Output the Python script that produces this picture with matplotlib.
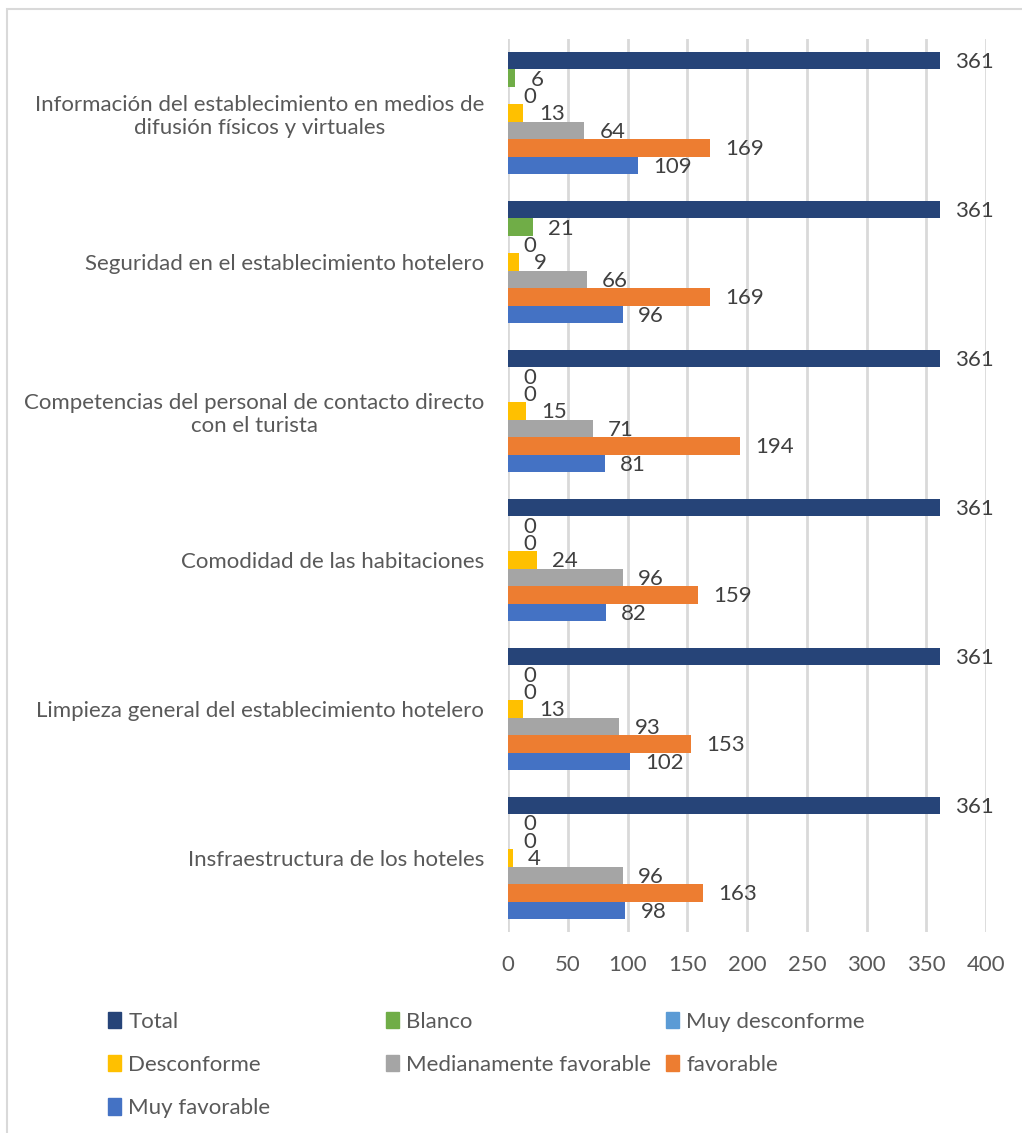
import numpy as np
import matplotlib
matplotlib.use("Agg")
import matplotlib.pyplot as plt
from matplotlib.patches import Patch, Rectangle

# categories, top to bottom as in the chart
categories = [
    "Información del establecimiento en medios de\ndifusión físicos y virtuales",
    "Seguridad en el establecimiento hotelero",
    "Competencias del personal de contacto directo\ncon el turista",
    "Comodidad de las habitaciones",
    "Limpieza general del establecimiento hotelero",
    "Insfraestructura de los hoteles",
]

# series, top bar of each group first
total = [361, 361, 361, 361, 361, 361]
blanco = [6, 21, 0, 0, 0, 0]
muy_desconforme = [0, 0, 0, 0, 0, 0]
desconforme = [13, 9, 15, 24, 13, 4]
medianamente = [64, 66, 71, 96, 93, 96]
favorable = [169, 169, 194, 159, 153, 163]
muy_favorable = [109, 96, 81, 82, 102, 98]

series_names = ["Total", "Blanco", "Muy desconforme", "Desconforme",
                "Medianamente favorable", "favorable", "Muy favorable"]
series_vals = [total, blanco, muy_desconforme, desconforme,
               medianamente, favorable, muy_favorable]
colors = ["#264478", "#70AD47", "#5B9BD5", "#FFC000",
          "#A5A5A5", "#ED7D31", "#4472C4"]

xticks = [0, 50, 100, 150, 200, 250, 300, 350, 400]

TXT = "#595959"
FS = 16
plt.rcParams["font.family"] = ["Lato", "DejaVu Sans"]

fig = plt.figure(figsize=(10.22, 11.33), dpi=100)
ax = fig.add_axes([0.497, 0.177, 0.468, 0.789])

n_ser = len(series_names)
bh = 0.117
y = np.arange(len(categories))
for i, (name, vals, c) in enumerate(zip(series_names, series_vals, colors)):
    # Total on top of each group, Muy favorable at the bottom
    pos = y - (n_ser - 1) / 2 * bh + i * bh
    bars = ax.barh(pos, vals, height=bh, color=c, label=name, zorder=3)
    for b, v in zip(bars, vals):
        ax.annotate(str(v), (b.get_width(), b.get_y() + b.get_height() / 2),
                    xytext=(11, -1), textcoords="offset points",
                    ha="left", va="center", fontsize=FS, color="#404040")

ax.set_xlim(0, 400)
ax.set_ylim(len(categories) - 0.5, -0.5)
ax.set_xticks(xticks)
ax.set_yticks(y)
ax.set_yticklabels(categories, fontsize=FS, color=TXT, ha="right",
                   multialignment="center")
ax.tick_params(axis="x", length=0, labelsize=FS, labelcolor=TXT, pad=16)
ax.tick_params(axis="y", length=0, pad=17)
ax.grid(axis="x", color="#D9D9D9", linewidth=2, zorder=0)
for s in ax.spines.values():
    s.set_visible(False)

# legend in three fixed columns, like the Excel layout
handles = [Patch(color=c, label=n) for n, c in zip(series_names, colors)]
col_x = [0.106, 0.378, 0.652]
for k in range(3):
    hs = handles[k::3]
    fig.legend(handles=hs, loc="upper left", bbox_to_anchor=(col_x[k], 0.1068),
               frameon=False, fontsize=FS, handlelength=0.55, handleheight=0.75,
               handletextpad=0.35, labelspacing=1.04, labelcolor=TXT,
               borderaxespad=0, borderpad=0)

# chart frame (cropped on right and bottom)
fig.patches.append(Rectangle((7 / 1022, -0.1), 1.2, 1 - 9 / 1133 + 0.1,
                             transform=fig.transFigure, fill=False,
                             edgecolor="#D9D9D9", linewidth=1.5))

fig.savefig("out.png", dpi=100)
